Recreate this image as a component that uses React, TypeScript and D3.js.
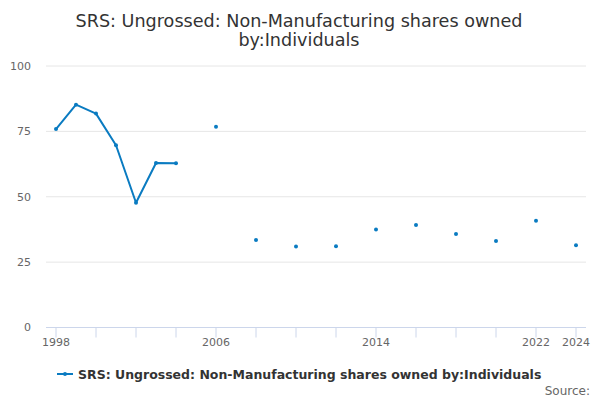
import React from 'react';
import * as d3 from 'd3';

const years = [1998, 1999, 2000, 2001, 2002, 2003, 2004, 2005, 2006, 2007, 2008, 2009, 2010, 2011, 2012, 2013, 2014, 2015, 2016, 2017, 2018, 2019, 2020, 2021, 2022, 2023, 2024];
const values: (number | null)[] = [75.9, 85.2, 81.8, 69.7, 47.7, 62.9, 62.8, null, 76.8, null, 33.5, null, 31.0, null, 31.1, null, 37.5, null, 39.2, null, 35.8, null, 33.1, null, 40.8, null, 31.5];
const yTicks = [0, 25, 50, 75, 100];
const xTickYears = [1998, 2000, 2002, 2004, 2006, 2008, 2010, 2012, 2014, 2016, 2018, 2020, 2022, 2024];
const xLabelYears = [1998, 2006, 2014, 2022, 2024];

const title = ['SRS: Ungrossed: Non-Manufacturing shares owned', 'by:Individuals'];
const seriesName = 'SRS: Ungrossed: Non-Manufacturing shares owned by:Individuals';

const W = 600;
const H = 400;
const left = 46;
const right = 586;
const top = 66;
const bottom = 327.5;
const colour = '#0a7bc1';
const font = '"DejaVu Sans", sans-serif';

const App: React.FC = () => {
  const x = d3.scaleLinear().domain([1997.5, 2024.5]).range([left, right]);
  const y = d3.scaleLinear().domain([0, 100]).range([bottom, top]);

  const points = years.map((yr, i) => ({ yr, v: values[i] }));
  const line = d3.line<{ yr: number; v: number | null }>()
    .defined(d => d.v !== null)
    .x(d => x(d.yr))
    .y(d => y(d.v as number));

  return (
    <svg width={W} height={H} style={{ position: 'absolute', left: 0, top: 0, background: '#fff' }} fontFamily={font}>
      <g textAnchor="middle" fill="#333" fontSize={17.6}>
        <text x={299} y={27}>{title[0]}</text>
        <text x={299} y={46}>{title[1]}</text>
      </g>

      {/* grid + y labels */}
      {yTicks.map(t => (
        <g key={t}>
          {t > 0 && <line x1={left} x2={right} y1={y(t)} y2={y(t)} stroke="#e6e6e6" strokeWidth={1} />}
          <text x={31} y={y(t)} dy="0.35em" textAnchor="end" fontSize={11} fill="#666">{t}</text>
        </g>
      ))}

      {/* x axis */}
      <line x1={left} x2={right} y1={bottom} y2={bottom} stroke="#ccd6eb" strokeWidth={1} />
      {xTickYears.map(yr => (
        <line key={yr} x1={x(yr)} x2={x(yr)} y1={bottom} y2={bottom + 10} stroke="#ccd6eb" strokeWidth={1} />
      ))}
      {xLabelYears.map(yr => (
        <text key={yr} x={x(yr)} y={346} textAnchor="middle" fontSize={11} fill="#666">{yr}</text>
      ))}

      {/* series */}
      <path d={line(points) || ''} fill="none" stroke={colour} strokeWidth={2} strokeLinejoin="round" />
      {points.filter(p => p.v !== null).map(p => (
        <circle key={p.yr} cx={x(p.yr)} cy={y(p.v as number)} r={2} fill={colour} />
      ))}

      {/* legend */}
      <line x1={57} x2={73} y1={374} y2={374} stroke={colour} strokeWidth={2} />
      <circle cx={65} cy={374} r={2} fill={colour} />
      <text x={78} y={378.5} fontSize={12.5} fontWeight="bold" fill="#333">{seriesName}</text>

      <text x={590} y={395} textAnchor="end" fontSize={12} fill="#666">Source:</text>
    </svg>
  );
};

export default App;
